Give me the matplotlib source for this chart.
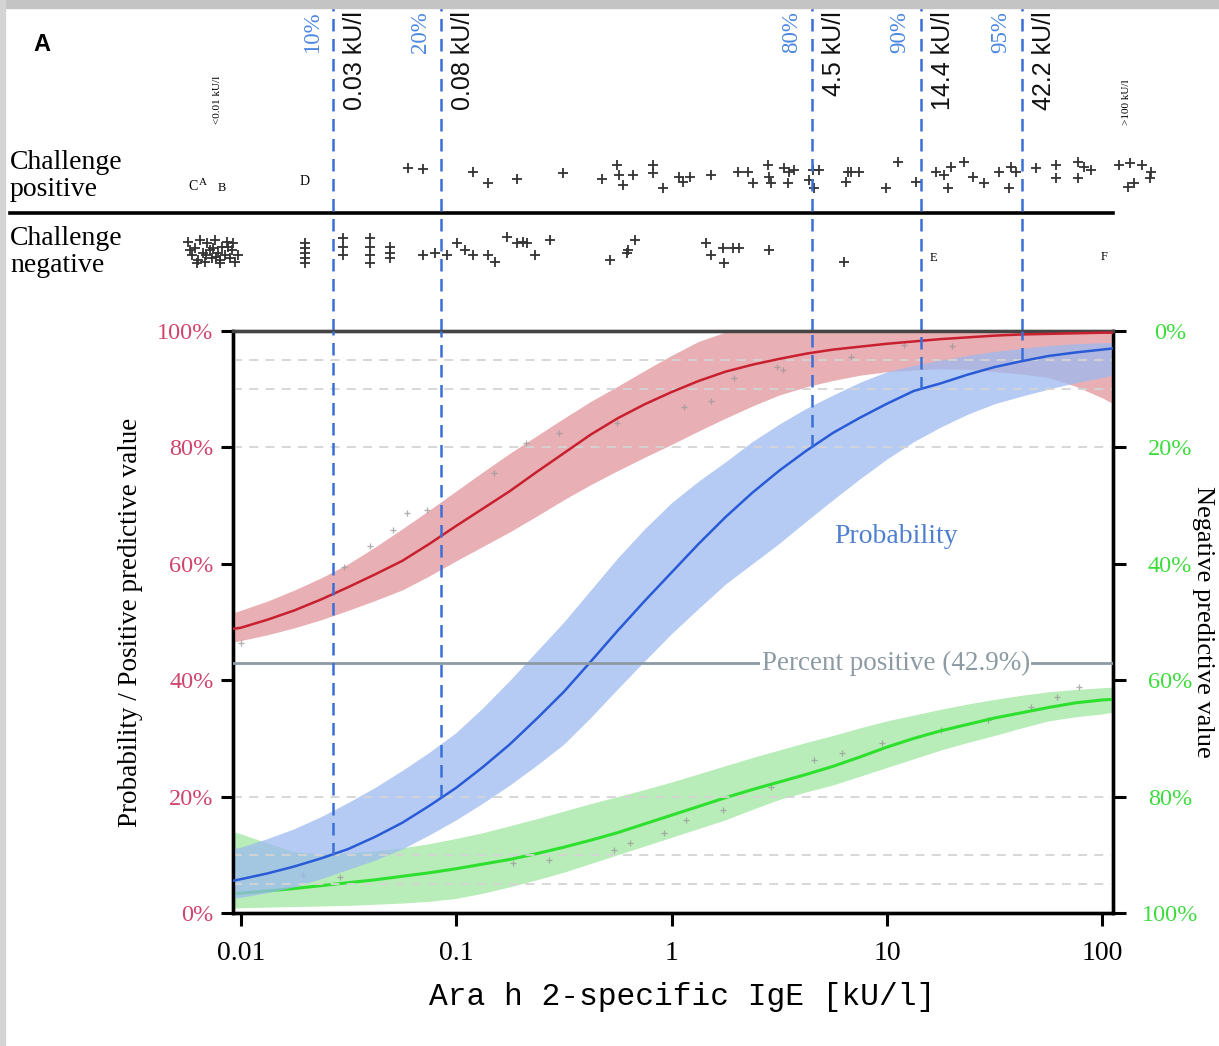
import matplotlib
matplotlib.use("Agg")
import matplotlib.pyplot as plt
from matplotlib.patches import Rectangle

# ---- curves (IgE in kU/l, values in %) ----
ige_grid = [0.00912, 0.01, 0.01334, 0.01778, 0.02371, 0.03162, 0.04217, 0.05623, 0.07499,
            0.1, 0.1334, 0.1778, 0.2371, 0.3162, 0.4217, 0.5623, 0.7499, 1.0, 1.334, 1.778,
            2.371, 3.162, 4.217, 5.623, 7.499, 10.0, 13.34, 17.78, 23.71, 31.62, 42.17, 56.23,
            74.99, 100.0, 112.2]
ppv = [48.8, 49, 50.4, 52, 53.9, 56, 58.2, 60.5, 63.4, 66.5, 69.5, 72.5, 75.8, 79, 82.2, 85,
       87.4, 89.5, 91.4, 93, 94.2, 95.2, 96.1, 96.8, 97.3, 97.8, 98.2, 98.6, 98.9, 99.2, 99.4,
       99.5, 99.6, 99.7, 99.7]
ppv_lo = [46.5, 46.8, 47.8, 49, 50.4, 52, 53.7, 55.5, 57.9, 60.5, 63, 65.5, 68.2, 71, 73.6, 76,
          78.3, 80.5, 82.8, 85, 87.1, 89, 90.4, 91.5, 92.4, 93, 93.3, 93.5, 93.4, 93, 92.6, 92,
          90.5, 88.5, 87.5]
ppv_hi = [51.5, 52, 53.6, 55.5, 57.6, 60, 62.9, 66, 69.2, 72.5, 75.8, 79, 82, 85, 87.9, 90.5,
          93.2, 95.8, 98.2, 99.8, 100, 100, 100, 100, 100, 100, 100, 100, 100, 100, 100, 100,
          100, 100, 100]
prob = [5.5, 5.8, 6.8, 8, 9.4, 11, 13.1, 15.5, 18.4, 21.5, 25.1, 29, 33.4, 38, 43.2, 48.5, 53.6,
        58.5, 63.4, 68, 72.2, 76, 79.4, 82.5, 85.1, 87.5, 89.7, 91, 92.5, 93.8, 94.8, 95.7,
        96.3, 96.8, 97]
prob_lo = [2.5, 2.7, 3.5, 4.5, 5.9, 7.5, 9.1, 11, 13.4, 16, 18.9, 22, 25.4, 29, 33.6, 38.5, 43.3,
           48, 52.3, 56.5, 60, 63.5, 67.3, 71, 74.6, 78, 81, 83.5, 85.7, 87.5, 88.8, 90, 91.1,
           92, 92.5]
prob_hi = [11, 11.3, 12.8, 14.5, 16.6, 19, 21.6, 24.5, 27.6, 31, 35.3, 40, 45, 50, 55.5, 61, 66,
           70.5, 74.2, 77.5, 81, 84, 86.7, 89, 91.2, 93, 94.1, 95, 95.8, 96.5, 97, 97.5, 97.8,
           98, 98]
npv = [96.7, 96.6, 96.2, 95.8, 95.3, 94.8, 94.3, 93.7, 93.1, 92.4, 91.6, 90.8, 89.8, 88.7, 87.5,
       86.2, 84.7, 83.2, 81.7, 80.2, 78.8, 77.5, 76.2, 74.8, 73.2, 71.5, 70, 68.7, 67.6, 66.5,
       65.6, 64.7, 63.9, 63.4, 63.3]
npv_lo = [86, 86.4, 88, 89.5, 89.8, 89.7, 89.3, 88.8, 88.1, 87.2, 86.2, 85, 83.8, 82.5, 81.2, 80,
          78.8, 77.5, 76.1, 74.7, 73.3, 72, 70.7, 69.5, 68.2, 67, 66, 65, 64.1, 63.3, 62.6, 62,
          61.6, 61.3, 61.2]
npv_hi = [99.2, 99.1, 99, 98.9, 98.8, 98.7, 98.5, 98.3, 98, 97.5, 96.6, 95.5, 94.3, 93, 91.5, 90,
          88.5, 87, 85.5, 84, 82.2, 80.5, 79.2, 78, 76.5, 75, 73.5, 72, 70.7, 69.5, 68.2, 67,
          66.3, 65.8, 65.5]

# observed (faint grey) points
ppv_obs_x = [0.01, 0.03, 0.04, 0.051, 0.059, 0.0735, 0.15, 0.21, 0.30, 0.56, 1.14, 1.52, 1.95, 3.1, 3.3, 6.8, 12, 20]
ppv_obs_y = [46.4, 59.5, 63, 65.8, 68.7, 69.2, 75.6, 80.8, 82.5, 84.2, 87, 88, 92, 93.8, 93.3, 95.5, 97.6, 97.4]
npv_obs_x = [0.0194, 0.029, 0.184, 0.27, 0.54, 0.64, 0.92, 1.17, 1.73, 2.88, 4.58, 6.2, 9.5, 17.8, 29.4, 46.7, 61.5, 78]
npv_obs_y = [93.5, 93.8, 91.4, 90.9, 89.2, 88, 86.3, 84, 82.3, 78.4, 73.7, 72.5, 70.8, 68.6, 66.8, 64.6, 62.9, 61.2]

# cut-offs
cut_ige = [0.0268, 0.085, 4.5, 14.4, 42.2]
cut_prob = [10, 20, 80, 90, 95]
cut_pct_labels = ["10%", "20%", "80%", "90%", "95%"]
cut_ige_labels = ["0.03 kU/l", "0.08 kU/l", "4.5 kU/l", "14.4 kU/l", "42.2 kU/l"]

ref_levels = [5, 10, 20, 80, 90, 95]
percent_positive = 42.9

# patients strip: x = IgE (kU/l), y = jittered row position (+1 positive, -1 negative)
pos_x = [0.060, 0.070, 0.120, 0.141, 0.192, 0.315, 0.477, 0.561, 0.573, 0.592, 0.659, 0.824, 0.824,
         0.908, 1.08, 1.13, 1.22, 1.52, 2.03, 2.26, 2.38, 2.80, 2.83, 2.89, 3.32, 3.50, 3.69, 3.47,
         4.34, 4.53, 4.83, 4.58, 6.44, 6.59, 6.80, 7.41, 9.89, 11.2, 13.6, 16.9, 18.4, 19.2, 19.9,
         22.8, 25.1, 28.3, 33.2, 36.9, 37.7, 39.8, 49.3, 61.1, 61.1, 77.3, 82.4, 77.3, 88.9,
         120, 134, 152, 169, 132, 141, 166]
pos_y = [1.17, 1.14, 1.06, 0.78, 0.88, 1.04, 0.88, 1.25, 0.99, 0.73, 0.99, 1.25, 1.04,
         0.65, 0.94, 0.81, 0.94, 0.99, 1.06, 1.06, 0.78, 1.25, 0.94, 0.78, 1.17, 1.06, 1.12, 0.78,
         0.86, 1.12, 1.12, 0.65, 0.81, 1.06, 1.06, 1.06, 0.65, 1.32, 0.81, 1.06, 0.99, 0.65, 1.19,
         1.32, 0.94, 0.78, 1.06, 0.65, 1.19, 1.06, 1.17, 1.25, 0.91, 1.32, 1.19, 0.91, 1.12,
         1.25, 1.30, 1.25, 1.06, 0.68, 0.78, 0.91]
neg_x = [0.00566, 0.00592, 0.00611, 0.00631, 0.00644, 0.00666, 0.00680, 0.00695, 0.00718, 0.00733,
         0.00757, 0.00782, 0.00798, 0.00816, 0.00843, 0.00861, 0.00889, 0.00908, 0.00938, 0.00968,
         0.00580, 0.00625, 0.00688, 0.00745, 0.00805, 0.00870, 0.00925, 0.00770,
         0.0198, 0.0198, 0.0198, 0.0198, 0.0198, 0.0298, 0.0298, 0.0298,
         0.0398, 0.0398, 0.0398, 0.0398, 0.0494, 0.0494, 0.0494,
         0.0703, 0.0798, 0.0908, 0.101, 0.110, 0.120, 0.141, 0.152, 0.173, 0.192, 0.205, 0.214,
         0.233, 0.274, 0.520, 0.624, 0.631, 0.680, 1.44, 1.52, 1.73, 1.92, 2.05, 1.75, 2.83, 6.31]
neg_y = [-0.75, -1.09, -0.91, -1.22, -0.70, -1.04, -1.27, -0.78, -0.96, -1.17, -0.70, -1.04, -1.22,
         -0.88, -1.09, -0.75, -1.17, -0.96, -1.27, -1.09,
         -0.96, -1.30, -1.09, -0.91, -1.30, -0.88, -0.78, -1.14,
         -0.78, -0.91, -1.04, -1.17, -1.30, -0.65, -0.88, -1.09,
         -0.65, -0.88, -1.09, -1.30, -0.88, -1.04, -1.17,
         -1.09, -1.04, -1.09, -0.78, -0.96, -1.09, -1.09, -1.27, -0.62, -0.78, -0.75, -0.78,
         -1.09, -0.70, -1.22, -1.04, -0.96, -0.70, -0.78, -1.09, -0.91, -0.91, -0.91, -1.30, -0.96, -1.27]

SERIF = ["Liberation Serif", "DejaVu Serif"]
MONO = ["Liberation Mono", "DejaVu Sans Mono"]
SANS = ["Liberation Sans", "DejaVu Sans"]
LEFT_COL = "#d0456c"
RIGHT_COL = "#3ddc3d"
CUT_COL = "#3a6fd8"
GREY = "#8c9ba3"

fig = plt.figure(figsize=(12.19, 10.46), dpi=100)
ax = fig.add_axes([0.1911, 0.1272, 0.7219, 0.5564])
ax2 = ax.twinx()
# left axes (probability / PPV) drawn above the NPV axes
ax.set_zorder(ax2.get_zorder() + 1)
ax.patch.set_visible(False)
strip = fig.add_axes([0.1911, 0.6836, 0.7219, 0.3088])

xlim = (0.0092, 112)

# ---- main panel ----
ax2.fill_between(ige_grid, npv_lo, npv_hi, color="#a6e8a6", alpha=0.8, lw=0, zorder=1)
ax.fill_between(ige_grid, ppv_lo, ppv_hi, color="#e39ba1", alpha=0.8, lw=0, zorder=1)
ax.fill_between(ige_grid, prob_lo, prob_hi, color="#9dbaf0", alpha=0.75, lw=0, zorder=1)

for lv in ref_levels:
    ax.axhline(lv, color="#d4d4d4", lw=1.3, ls=(0, (5, 4)), zorder=2)

ax.plot(ppv_obs_x, ppv_obs_y, "+", color="#9a9a9a", ms=4, mew=0.9, alpha=0.8, zorder=2)
ax2.plot(npv_obs_x, npv_obs_y, "+", color="#9a9a9a", ms=4, mew=0.9, alpha=0.8, zorder=2)

ax.plot(ige_grid, ppv, color="#c8202f", lw=1.8, zorder=3)
ax.plot(ige_grid, prob, color="#2a5bd7", lw=1.8, zorder=3)
ax2.plot(ige_grid, npv, color="#2ee02e", lw=2.2, zorder=3)

ax.axhline(percent_positive, color=GREY, lw=2, zorder=3)
ax.text(11.0, percent_positive, "Percent positive (42.9%)", color=GREY, fontsize=19.5,
        family=SERIF, ha="center", va="center", zorder=4,
        bbox=dict(facecolor="white", edgecolor="none", pad=1))
ax.text(11.0, 64.6, "Probability", color="#4f7fd0", fontsize=20, family=SERIF,
        ha="center", va="center", zorder=4)

ax.vlines(cut_ige, cut_prob, 100, colors=CUT_COL, lw=1.8, linestyles=(0, (5, 3)), zorder=5)

ax.set_xscale("log")
ax.set_xlim(*xlim)
ax.set_ylim(0, 100)
ax2.set_ylim(100, 0)
ax.set_xticks([0.01, 0.1, 1, 10, 100])
ax.set_xticklabels(["0.01", "0.1", "1", "10", "100"], family=SERIF, fontsize=20)
ax.xaxis.set_minor_locator(plt.NullLocator())
ax.set_yticks([0, 20, 40, 60, 80, 100])
ax.set_yticklabels(["0%", "20%", "40%", "60%", "80%", "100%"], family=SERIF, fontsize=17.5,
                   color=LEFT_COL)
ax2.set_yticks([0, 20, 40, 60, 80, 100])
ax2.set_yticklabels(["0%", "20%", "40%", "60%", "80%", "100%"], family=SERIF, fontsize=17.5,
                    color=RIGHT_COL, ha="center")

ax.tick_params(axis="x", length=9, width=2.2, pad=11, direction="out")
ax.tick_params(axis="y", length=9, width=2.2, pad=5, direction="out")
ax2.tick_params(axis="y", length=9, width=2.2, pad=32, direction="out")
for a in (ax, ax2):
    for s in a.spines.values():
        s.set_linewidth(2.4)
ax.spines["top"].set_color("#444444")
ax2.spines["top"].set_color("#444444")

ax.set_ylabel("Probability / Positive predictive value", family=SERIF, fontsize=19.5,
              labelpad=10)
fig.text(0.5595, 0.0468, "Ara h 2-specific IgE [kU/l]", family=MONO, fontsize=22.5,
         ha="center", va="center")
fig.text(0.9865, 0.405, "Negative predictive value", family=SERIF, fontsize=19,
         rotation=270, ha="center", va="center")

# ---- patient strip ----
strip.set_xscale("log")
strip.set_xlim(*xlim)
strip.set_ylim(-3.06, 5.32)
strip.axis("off")
strip.plot(pos_x, pos_y, "+", color="#333333", ms=7.5, mew=1.3, clip_on=False)
strip.plot(neg_x, neg_y, "+", color="#333333", ms=7.5, mew=1.3, clip_on=False)
strip.axhline(0, xmin=-0.253, xmax=1.0, color="black", lw=2.6, clip_on=False)

xt = strip.get_xaxis_transform()
for cx in cut_ige:
    strip.axvline(cx, color=CUT_COL, lw=1.8, ls=(0, (5, 3)))
for cx, pl, kl in zip(cut_ige, cut_pct_labels, cut_ige_labels):
    strip.annotate(pl, xy=(cx, 0.99), xycoords=xt, xytext=(-15, 0), textcoords="offset points",
                   rotation=90, ha="center", va="top", color="#4a86e0", fontsize=16.5, family=SERIF)
    strip.annotate(kl, xy=(cx, 0.99), xycoords=xt, xytext=(16, 0), textcoords="offset points",
                   rotation=90, ha="center", va="top", color="#111111", fontsize=18, family=SANS)

strip.text(0.0078, 0.79, "<0.01 kU/l", transform=xt, rotation=90, ha="center", va="top",
           fontsize=8, family=SERIF)
strip.text(130, 0.78, ">100 kU/l", transform=xt, rotation=90, ha="center", va="top",
           fontsize=8, family=SERIF)
for lx, ly, lt, fs in [(0.00598, 0.68, "C", 10), (0.00668, 0.80, "A", 8), (0.00820, 0.66, "B", 9),
                       (0.0198, 0.81, "D", 10), (16.5, -1.17, "E", 9), (102, -1.14, "F", 9)]:
    strip.text(lx, ly, lt, ha="center", va="center", fontsize=fs, family=SERIF)

fig.text(0.0082, 0.8317, "Challenge\npositive", family=SERIF, fontsize=20, ha="left",
         va="center", linespacing=1.12)
fig.text(0.0082, 0.759, "Challenge\nnegative", family=SERIF, fontsize=20, ha="left",
         va="center", linespacing=1.12)
fig.text(0.034, 0.957, "A", family=SANS, fontsize=17, fontweight="bold", ha="center", va="center")

# screenshot frame shading at the top/left edges
fig.patches.append(Rectangle((0, 0.992), 1, 0.008, transform=fig.transFigure,
                             color="#c4c4c4", zorder=0))
fig.patches.append(Rectangle((0, 0), 0.004, 1, transform=fig.transFigure,
                             color="#d4d4d4", zorder=0))

fig.savefig("out.png", dpi=100)
